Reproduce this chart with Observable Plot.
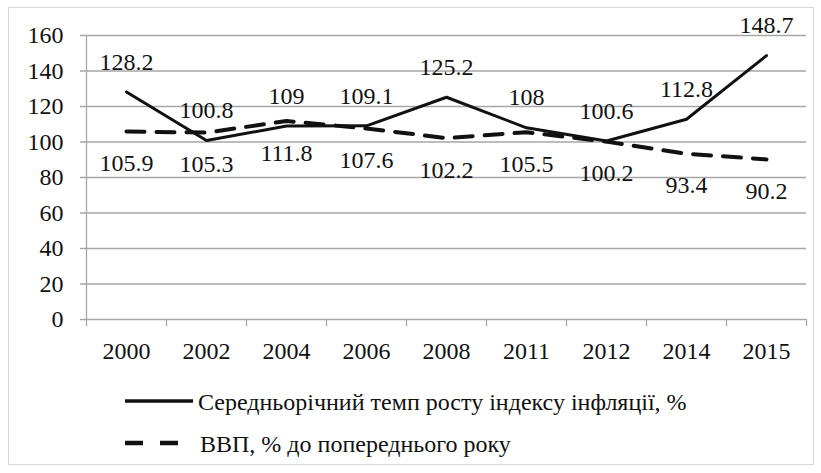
<!DOCTYPE html>
<html>
<head>
<meta charset="utf-8">
<script src="https://cdn.jsdelivr.net/npm/d3@7"></script>
<script src="https://cdn.jsdelivr.net/npm/@observablehq/plot@0.6"></script>
<style>
  html, body { margin: 0; padding: 0; background: #fff; }
  #wrap { position: relative; width: 821px; height: 473px; color: #111; }
  #frame { position: absolute; left: 8px; top: 7px; width: 806px; height: 458px; border: 1.5px solid #d9d9d9; box-sizing: border-box; }
  #chart { position: absolute; left: 0; top: 0; }
  #legend { position: absolute; left: 0; top: 375px; }
</style>
</head>
<body>
<div id="wrap">
  <div id="frame"></div>
  <div id="chart"></div>
  <div id="legend"></div>
</div>
<script>
const years = ["2000", "2002", "2004", "2006", "2008", "2011", "2012", "2014", "2015"];
const inflation = [128.2, 100.8, 109, 109.1, 125.2, 108, 100.6, 112.8, 148.7];
const gdp = [105.9, 105.3, 111.8, 107.6, 102.2, 105.5, 100.2, 93.4, 90.2];
const yTicks = [0, 20, 40, 60, 80, 100, 120, 140, 160];
const seriesNames = ["Середньорічний темп росту індексу інфляції, %", "ВВП, % до попереднього року"];

const font = "Liberation Serif";
const infl = years.map((y, i) => ({i: i + 0.5, year: y, v: inflation[i]}));
const gd = years.map((y, i) => ({i: i + 0.5, year: y, v: gdp[i]}));
const bounds = d3.range(years.length + 1);

const chart = Plot.plot({
  width: 821,
  height: 375,
  marginLeft: 86,
  marginRight: 15,
  marginTop: 35,
  marginBottom: 56,
  style: {background: "transparent", overflow: "visible"},
  x: {domain: [0, years.length], axis: null},
  y: {domain: [0, 160], axis: null},
  marks: [
    Plot.gridY(yTicks, {stroke: "#a6a6a6", strokeOpacity: 1, strokeWidth: 1.3, x1: 0, x2: years.length, insetLeft: -6}),
    Plot.ruleX([0], {y1: 0, y2: 160, stroke: "#a6a6a6", strokeWidth: 1.3}),
    Plot.axisY(yTicks, {tickSize: 0, tickPadding: 23, fontSize: 24, fontFamily: font, fill: "#111", label: null, tickFormat: d => d}),
    Plot.axisX(bounds, {tickSize: 7, tickFormat: () => "", stroke: "#a6a6a6", strokeWidth: 1.3, label: null}),
    Plot.axisX(infl.map(d => d.i), {tickSize: 0, tickPadding: 22, fontSize: 24, fontFamily: font, fill: "#111", tickFormat: (d, k) => years[k], label: null}),
    Plot.line(gd, {x: "i", y: "v", stroke: "#111", strokeWidth: 4, strokeDasharray: "18,12"}),
    Plot.line(infl, {x: "i", y: "v", stroke: "#111", strokeWidth: 3}),
    Plot.text(infl, {x: "i", y: "v", text: d => String(d.v), dy: -30, fontSize: 24, fontFamily: font, fill: "#111"}),
    Plot.text(gd, {x: "i", y: "v", text: d => String(d.v), dy: 32, fontSize: 24, fontFamily: font, fill: "#111"})
  ]
});
chart.setAttribute("font-family", font);
document.getElementById("chart").appendChild(chart);

// Legend
const lg = d3.select("#legend").append("svg").attr("width", 821).attr("height", 98)
  .attr("font-family", font);
const rows = [
  {name: seriesNames[0], y: 26, dash: null, w: 3.5, x2: 193, tx: 198},
  {name: seriesNames[1], y: 68, dash: "18,17", w: 4.5, x2: 178, tx: 200}
];
rows.forEach(r => {
  lg.append("line").attr("x1", 125).attr("x2", r.x2).attr("y1", r.y).attr("y2", r.y)
    .attr("stroke", "#111").attr("stroke-width", r.w).attr("stroke-dasharray", r.dash);
  lg.append("text").attr("x", r.tx).attr("y", r.y + 1).attr("dy", "0.35em")
    .attr("font-family", font).attr("font-size", 24).attr("fill", "#111").text(r.name);
});
</script>
</body>
</html>
